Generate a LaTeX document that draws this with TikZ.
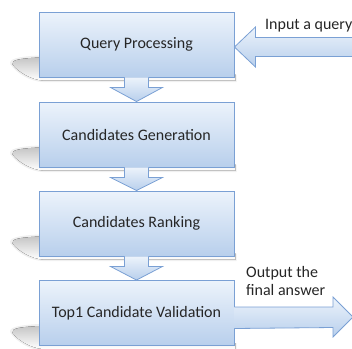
\documentclass[tikz,border=0pt]{standalone}
\usepackage{fontspec}
\setmainfont{Carlito}
\usetikzlibrary{calc}
\definecolor{boxtop}{RGB}{236,243,251}
\definecolor{boxbot}{RGB}{184,207,236}
\definecolor{boxline}{RGB}{122,160,212}
\begin{document}
\begin{tikzpicture}[x=1pt,y=-1pt,
  stage/.style={draw=boxline,line width=0.9pt,top color=boxtop,bottom color=boxbot,
    minimum width=195pt,minimum height=65pt,inner sep=0pt,
    font=\fontsize{16}{19}\selectfont,text=black!85},
  flowarrow/.style={draw=boxline,line width=0.8pt,line join=miter,top color=boxtop,bottom color=boxbot},
  curl/.style={top color=gray!45,bottom color=white,draw=none},
  softcurl/.style={fill=gray!12,draw=none},
  note/.style={font=\fontsize{16}{18}\selectfont,text=black!85,inner sep=0pt,align=left}]
\useasboundingbox (0,0) rectangle (352,348);
\clip (0,0) rectangle (352,348);

% stage positions
\coordinate (c1) at (136.5,44.5);
\coordinate (c2) at (136.5,134.5);
\coordinate (c3) at (136.5,223.5);
\coordinate (c4) at (136.5,313);

% curled shadows under the lower left corner of each stage
\foreach \c in {c1,c2,c3,c4}{
  \fill[softcurl] ($(\c)+(-97.5,11)$)
     .. controls ($(\c)+(-117,12)$) and ($(\c)+(-129,14)$) .. ($(\c)+(-126,20)$)
     .. controls ($(\c)+(-120,29)$) and ($(\c)+(-106,37)$) .. ($(\c)+(-94,37.5)$)
     -- ($(\c)+(100,37.5)$) -- ($(\c)+(100,30)$) -- ($(\c)+(-97.5,30)$) -- cycle;
  \fill[curl] ($(\c)+(-97.5,13)$)
     .. controls ($(\c)+(-115,14)$) and ($(\c)+(-126,15)$) .. ($(\c)+(-124,20)$)
     .. controls ($(\c)+(-118,28)$) and ($(\c)+(-105,35)$) .. ($(\c)+(-94,36)$)
     -- ($(\c)+(99,36)$) -- ($(\c)+(99,30)$) -- ($(\c)+(-97.5,30)$) -- cycle;
}

\node[stage] (q1) at (c1) {Query Processing};
\node[stage] (q2) at (c2) {Candidates Generation};
\node[stage] (q3) at (c3) {Candidates Ranking};
\node[stage] (q4) at (c4) {Top1 Candidate Validation};

% block arrows between consecutive stages
\foreach \a/\b in {q1/q2,q2/q3,q3/q4}{
  \draw[flowarrow] ($(\a.south)+(-12,0)$) -- ($(\a.south)+(-12,10)$)
    -- ($(\a.south)+(-26,10)$) -- (\b.north) -- ($(\a.south)+(26,10)$)
    -- ($(\a.south)+(12,10)$) -- ($(\a.south)+(12,0)$);
}

% incoming query arrow
\coordinate (intip) at ($(q1.east)+(0,2.5)$);
\coordinate (inend) at (356,47);
\draw[flowarrow] (intip) -- ($(intip)+(21,-20)$) -- ($(intip)+(21,-9.5)$)
  -- ($(inend)+(0,-9.5)$) -- ($(inend)+(0,9.5)$) -- ($(intip)+(21,9.5)$)
  -- ($(intip)+(21,20)$) -- cycle;
\node[note,anchor=west] (inlabel) at (265,26) {Input a query};

% outgoing answer arrow
\coordinate (outtip) at (353,317);
\draw[flowarrow] ($(q4.east)+(0,-6)$) -- ($(outtip)+(-20,-10)$) -- ($(outtip)+(-20,-20)$)
  -- (outtip) -- ($(outtip)+(-20,20)$) -- ($(outtip)+(-20,10.5)$)
  -- ($(q4.east)+(0,15.5)$);
\node[note,anchor=north west] (outlabel) at (246,266) {Output the\\final answer};
\end{tikzpicture}
\end{document}
